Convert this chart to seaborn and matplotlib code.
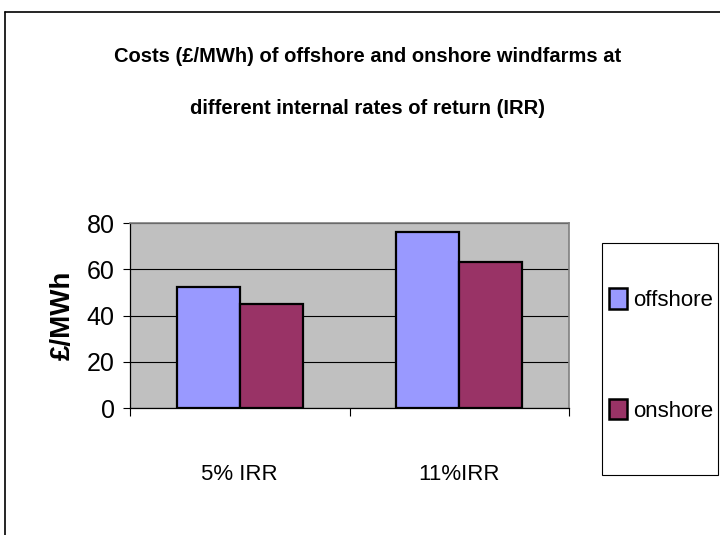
import numpy as np
import pandas as pd
import matplotlib.pyplot as plt
import matplotlib.patches as mpatches
from matplotlib.lines import Line2D
import seaborn as sns

categories = ["5% IRR", "11%IRR"]
offshore = [52.5, 76]
onshore = [45, 63]
series_names = ["offshore", "onshore"]
series_colors = ["#9999FF", "#993366"]
y_ticks = [0, 20, 40, 60, 80]

df = pd.DataFrame({
    "irr": categories * 2,
    "cost": offshore + onshore,
    "site": [series_names[0]] * 2 + [series_names[1]] * 2,
})

sns.set_style("white")
plt.rcParams["font.family"] = ["Liberation Sans", "DejaVu Sans"]
plt.rcParams["text.color"] = "black"
plt.rcParams["axes.labelcolor"] = "black"
plt.rcParams["xtick.color"] = "black"
plt.rcParams["ytick.color"] = "black"

fig = plt.figure(figsize=(7.2, 5.35), dpi=100)
ax = fig.add_axes([130 / 720, 1 - 408 / 535, 439 / 720, 185 / 535])

sns.barplot(data=df, x="irr", y="cost", hue="site", order=categories,
            hue_order=series_names, palette=series_colors, saturation=1,
            width=0.575, edgecolor="black", linewidth=1.6, ax=ax,
            legend=False, zorder=3)

ax.set_facecolor("#C0C0C0")
ax.set_ylim(0, 80)
ax.set_xlim(-0.5, 1.5)
ax.set_yticks(y_ticks)
ax.set_yticklabels([str(v) for v in y_ticks], fontsize=18)
ax.yaxis.grid(True, color="black", linewidth=0.8, zorder=1)
ax.set_axisbelow(True)
ax.tick_params(axis="y", length=5, width=0.8, left=True, pad=6)
ax.set_xticks([0, 1])
ax.set_xticklabels(categories, fontsize=16)
ax.tick_params(axis="x", which="major", length=0, pad=40)
ax.set_xticks([-0.5, 0.5, 1.5], minor=True)
ax.tick_params(axis="x", which="minor", length=6, width=0.8, bottom=True)
ax.set_xlabel("")
ax.set_ylabel("£/MWh", fontsize=20, fontweight="bold", labelpad=8)

for side in ["top", "right"]:
    ax.spines[side].set_color("#808080")
    ax.spines[side].set_linewidth(1.2)
for side in ["left", "bottom"]:
    ax.spines[side].set_color("black")
    ax.spines[side].set_linewidth(0.9)

fig.text(368 / 720, 1 - 57 / 535,
         "Costs (£/MWh) of offshore and onshore windfarms at",
         ha="center", va="center", fontsize=14.5, fontweight="bold")
fig.text(368 / 720, 1 - 108 / 535,
         "different internal rates of return (IRR)",
         ha="center", va="center", fontsize=14.5, fontweight="bold")

# legend box
fig.add_artist(mpatches.Rectangle((602 / 720, 1 - 475 / 535), 116 / 720, 232 / 535,
                                  transform=fig.transFigure, facecolor="white",
                                  edgecolor="black", linewidth=0.8))
handles = [mpatches.Patch(facecolor=c, edgecolor="black", linewidth=1.8, label=n)
           for c, n in zip(series_colors, series_names)]
leg = fig.legend(handles=handles, loc="upper left",
                 bbox_to_anchor=(609 / 720, 1 - 288 / 535),
                 frameon=False, fontsize=16, labelspacing=3.95,
                 handlelength=0.8, handleheight=1.05,
                 handletextpad=0.3, borderpad=0, borderaxespad=0)

# outer chart frame
fig.add_artist(Line2D([5 / 720, 5 / 720], [0, 1 - 12 / 535], color="black", linewidth=1.2))
fig.add_artist(Line2D([5 / 720, 1], [1 - 12 / 535, 1 - 12 / 535], color="black", linewidth=1.2))

fig.savefig("out.png", dpi=100)
